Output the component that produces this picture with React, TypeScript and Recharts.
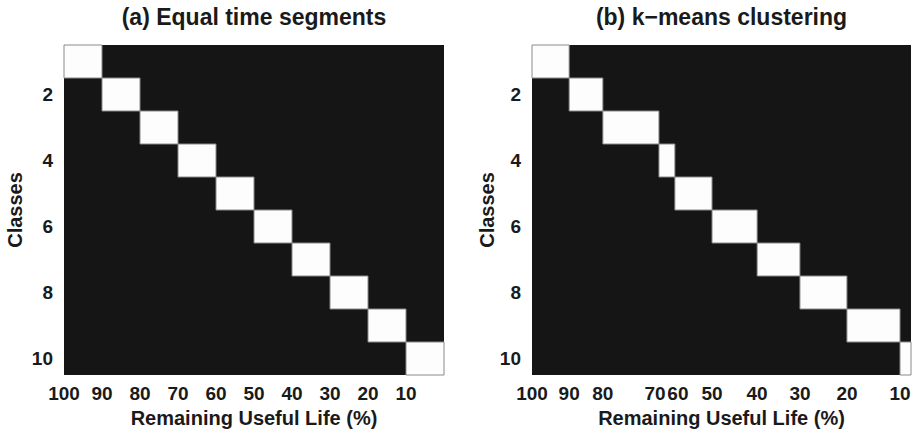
import React from "react"
import {
  BarChart,
  Bar,
  XAxis,
  YAxis,
  CartesianGrid,
} from "recharts"

// class index 1..10, top to bottom
const classes = [1, 2, 3, 4, 5, 6, 7, 8, 9, 10]
const classTicks = [2, 4, 6, 8, 10]

// (a) equal time segments: class edges in RUL (%)
const equalEdges = [100, 90, 80, 70, 60, 50, 40, 30, 20, 10, 0]
const equalTickLabels = ["100", "90", "80", "70", "60", "50", "40", "30", "20", "10"]

// (b) k-means clustering: class edges along the same axis
const kmeansEdges = [100, 90.2, 81.3, 66.5, 62.3, 52.5, 40.6, 29.3, 16.9, 2.9, 0]
const kmeansTickLabels = ["100", "90", "80", "70", "60", "50", "40", "30", "20", "10"]

const FONT = '"Liberation Sans", Arial, Helvetica, sans-serif'
const INK = "#1a1a1a"
const BG = "#151515"
const CELL = "#fdfdfd"

// the 70 and 60 labels of panel (b) sit too close, push them apart a bit
const kmeansLabelNudge: Record<number, number> = { 3: -4, 4: 3 }

interface PanelProps {
  title: string
  edges: number[]
  tickLabels: string[]
  nudge?: Record<number, number>
  yAxisWidth: number
  rightMargin: number
  labelOffset: number
}

function Panel({ title, edges, tickLabels, nudge = {}, yAxisWidth, rightMargin, labelOffset }: PanelProps) {
  const xTicks = edges.slice(0, tickLabels.length)
  const plotLeft = yAxisWidth
  const plotRight = 457 - rightMargin

  // one floating bar per class: [start, end] of its segment
  const rows = classes.map((c, i) => ({ cls: c, range: [edges[i], edges[i + 1]] }))

  const renderXTick = (props: any) => {
    const { x, y, index } = props
    return (
      <text
        x={x + (nudge[index] || 0)}
        y={y}
        dy="0.71em"
        textAnchor="middle"
        fill={INK}
        fontSize={19}
        fontWeight="bold"
        fontFamily={FONT}
      >
        {tickLabels[index]}
      </text>
    )
  }

  return (
    <div style={{ position: "relative", width: 457, height: 429 }}>
      <div
        style={{
          position: "absolute",
          top: 4,
          left: plotLeft,
          width: plotRight - plotLeft,
          textAlign: "center",
          fontFamily: FONT,
          fontWeight: "bold",
          fontSize: 23,
          color: INK,
        }}
      >
        {title}
      </div>
      <BarChart
        width={457}
        height={429}
        data={rows}
        layout="vertical"
        barCategoryGap={0}
        barGap={0}
        margin={{ top: 45, right: rightMargin, bottom: 0, left: 0 }}
        style={{ fontFamily: FONT }}
      >
        <CartesianGrid horizontal={false} vertical={false} fill={BG} fillOpacity={1} />
        <XAxis
          type="number"
          domain={[0, 100]}
          reversed
          ticks={xTicks}
          interval={0}
          tick={renderXTick}
          tickLine={false}
          axisLine={false}
          tickSize={0}
          tickMargin={12}
          height={54}
          label={{
            value: "Remaining Useful Life (%)",
            position: "insideBottom",
            offset: 4,
            fill: INK,
            fontSize: 20,
            fontWeight: "bold",
          }}
        />
        <YAxis
          type="category"
          dataKey="cls"
          interval={0}
          tickFormatter={(v: number) => (classTicks.includes(v) ? String(v) : "")}
          tick={{ fill: INK, fontSize: 19, fontWeight: "bold" }}
          tickLine={false}
          axisLine={false}
          tickSize={0}
          tickMargin={11}
          width={yAxisWidth}
          label={{
            value: "Classes",
            angle: -90,
            position: "insideLeft",
            offset: labelOffset,
            fill: INK,
            fontSize: 20,
            fontWeight: "bold",
            style: { textAnchor: "middle" },
          }}
        />
        <Bar
          dataKey="range"
          fill={CELL}
          stroke="#8a8a8a"
          strokeWidth={1}
          isAnimationActive={false}
        />
      </BarChart>
    </div>
  )
}

export default function App() {
  return (
    <div style={{ display: "flex", width: 914, height: 429, background: "#fff" }}>
      <style>{`body { margin: 0; }`}</style>
      <Panel
        title="(a) Equal time segments"
        edges={equalEdges}
        tickLabels={equalTickLabels}
        yAxisWidth={64}
        rightMargin={13}
        labelOffset={15}
      />
      <Panel
        title="(b) k−means clustering"
        edges={kmeansEdges}
        tickLabels={kmeansTickLabels}
        nudge={kmeansLabelNudge}
        yAxisWidth={75}
        rightMargin={3}
        labelOffset={30}
      />
    </div>
  )
}
